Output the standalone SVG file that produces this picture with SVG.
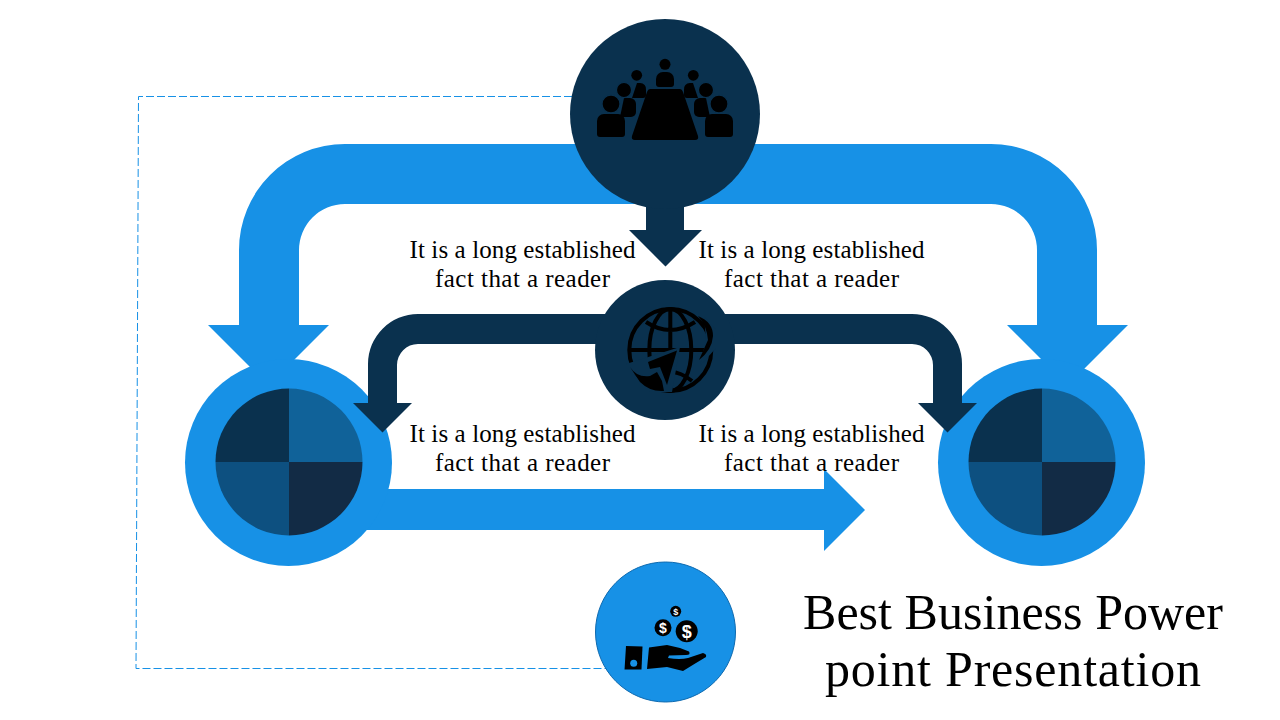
<svg xmlns="http://www.w3.org/2000/svg" xmlns:xlink="http://www.w3.org/1999/xlink" width="1280" height="720" viewBox="0 0 1280 720">
<style>
.blue{fill:#1791e6}
.dark{fill:#0a314e}
.ink{fill:#000}
.body{font-family:"Liberation Serif","Times New Roman",serif;font-size:25px;fill:#000;text-anchor:middle}
.title{font-family:"Liberation Serif","Times New Roman",serif;font-size:50px;fill:#000;text-anchor:middle}
.coin{font-family:"Liberation Sans",Arial,sans-serif;font-weight:bold;fill:#fff;text-anchor:middle}
.ring{stroke:#0a314e;stroke-width:1.3}
.gl{fill:none;stroke:#000;stroke-width:4}
</style>
<defs>
<g id="people">
<circle cx="636.700" cy="75.300" r="5.400" class="ink"/>
<path class="ink" d="M637 83h3a6 6 0 0 1 6 7v5a3 3 0 0 1-3 3h-11z"/>
<path class="ink" d="M624 98h6a6 6 0 0 1 6 6v8a5 5 0 0 1-5 5h-11z"/>
<circle cx="624" cy="90" r="7.600" class="ink ring"/>
<path class="ink" d="M604 114h14a7 7 0 0 1 7 7v13a3 3 0 0 1-3 3h-22a3 3 0 0 1-3-3v-13a7 7 0 0 1 7-7z"/>
<circle cx="611" cy="104" r="9" class="ink ring"/>
</g>
<g id="quad">
<path d="M0 0V-73.500A73.500 73.500 0 0 0-73.500 0Z" fill="#0a314e"/>
<path d="M0 0V-73.500A73.500 73.500 0 0 1 73.500 0Z" fill="#106299"/>
<path d="M0 0H-73.500A73.500 73.500 0 0 0 0 73.500Z" fill="#0d5080"/>
<path d="M0 0H73.500A73.500 73.500 0 0 1 0 73.500Z" fill="#122b45"/>
</g>
</defs>

<g id="connectors">
<path id="dashed-link" d="M572 96.500H138.500L136 668.500H612" fill="none" stroke="#1791e6" stroke-width="1" stroke-dasharray="8 3"/>
<path id="big-arrow" class="blue" d="M345 144H991A106 106 0 0 1 1097 250V325H1128L1067.500 385.500L1007 325H1037V250A46 46 0 0 0 991 204H345A46 46 0 0 0 299 250V325H329L268.500 385.500L208 325H239V250A106 106 0 0 1 345 144Z"/>
<path id="straight-arrow" class="blue" d="M340 489H824V469L865 510L824 551V530H340Z"/>
</g>

<g id="node-left">
<circle cx="288.500" cy="462.500" r="103.500" class="blue"/>
<use xlink:href="#quad" href="#quad" transform="translate(289 462)"/>
</g>
<g id="node-right">
<circle cx="1041.500" cy="462.500" r="103.500" class="blue"/>
<use xlink:href="#quad" href="#quad" transform="translate(1042 462)"/>
</g>

<g id="connectors-dark">
<path id="mid-arrow" class="dark" d="M418 314H912A50 50 0 0 1 962 364V403H977L947.500 432.500L918 403H933V365A21 21 0 0 0 912 344H418A21 21 0 0 0 397 365V403H412L382.500 432.500L353 403H368V364A50 50 0 0 1 418 314Z"/>
<path id="down-arrow" class="dark" d="M646 180H684V230H702L665.500 266.500L629 230H646Z"/>
</g>

<g id="node-top">
<circle cx="665" cy="114" r="95" class="dark"/>
<use xlink:href="#people" href="#people"/>
<use xlink:href="#people" href="#people" transform="translate(1330 0) scale(-1 1)"/>
<circle cx="665" cy="64.300" r="5.500" class="ink"/>
<path class="ink" d="M663 72h4a7 7 0 0 1 7 7v5a3 3 0 0 1-3 3h-12a3 3 0 0 1-3-3v-5a7 7 0 0 1 7-7z"/>
<path class="ink" d="M650 89H680Q682 89 683 92L698 136Q699 140 695 140H635Q631 140 632 136L647 92Q648 89 650 89Z"/>
</g>

<g id="node-mid">
<circle cx="665" cy="350" r="70" class="dark"/>
<circle cx="670.300" cy="350" r="41" class="gl"/>
<ellipse cx="670.300" cy="350" rx="21" ry="41" class="gl"/>
<path class="gl" d="M670.300 309V391M630 350H711M646 322Q670 338 695 322M650 381Q670 363 692 381"/>
<path class="dark" d="M704 316L716 330L716 348L700 366L706 340Z"/>
<path class="ink" d="M698 316Q713 322 713 336Q712 350 699 360L708 340Q707 326 698 316Z"/>
<path class="dark" d="M626 364L680 347L672 392L650 392Z"/>
<path class="ink" d="M677 350.500L648 362L650 369L660 367L667 385Z"/>
<path class="ink" d="M630 367Q637 378 650 376L657 372L662 381L664 391Q650 392 640 382Z"/>
</g>

<g id="node-bottom">
<circle cx="665.500" cy="632" r="70" class="blue" stroke="#0e6ab0" stroke-width="1"/>
<circle cx="675.700" cy="611.300" r="5.500" class="ink"/>
<circle cx="663" cy="627.700" r="8.500" class="ink"/>
<circle cx="686.700" cy="631.300" r="11" class="ink"/>
<text x="675.700" y="614.800" font-size="9" class="coin">$</text>
<text x="663" y="632.800" font-size="14" class="coin">$</text>
<text x="686.700" y="637.800" font-size="18" class="coin">$</text>
<path class="ink" d="M626 646L642.500 646.500L641.500 669.500L624.500 669.500Z"/>
<circle cx="633.700" cy="663.300" r="3.500" class="blue"/>
<path class="ink" d="M649 647.500L667 645L680 648L689 651.500Q691 655 686 655L669 655.500L668 658Q680 660 688 658L703 653Q707 654 706 657L696 663L683 671L667 667L647 669Z"/>
</g>

<g id="labels">
<text class="body" x="522.500" y="258" textLength="226">It is a long established</text>
<text class="body" x="522.500" y="287" textLength="175">fact that a reader</text>
<text class="body" x="811.500" y="258" textLength="226">It is a long established</text>
<text class="body" x="811.500" y="287" textLength="175">fact that a reader</text>
<text class="body" x="522.500" y="442" textLength="226">It is a long established</text>
<text class="body" x="522.500" y="471" textLength="175">fact that a reader</text>
<text class="body" x="811.500" y="442" textLength="226">It is a long established</text>
<text class="body" x="811.500" y="471" textLength="175">fact that a reader</text>
<text class="title" x="1013" y="628.500" textLength="420">Best Business Power</text>
<text class="title" x="1013" y="686" textLength="376">point Presentation</text>
</g>
</svg>
